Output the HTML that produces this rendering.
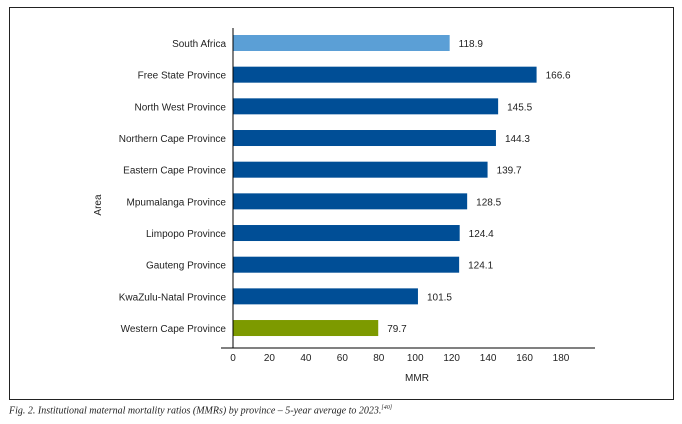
<!DOCTYPE html>
<html><head><meta charset="utf-8"><style>
body{margin:0;background:#fff;width:682px;height:424px;overflow:hidden;font-family:"Liberation Sans",sans-serif}
#frame{position:absolute;left:9px;top:7px;width:665px;height:393px;border:1px solid #222;box-sizing:border-box}
#cap{position:absolute;left:9px;top:405px;font-family:"Liberation Serif",serif;font-style:italic;font-size:10px;color:#222}
svg text{font-family:"Liberation Sans",sans-serif;font-size:10px;fill:#222}
</style></head><body>
<div id="frame"></div>
<svg id="chart" width="682" height="424" style="position:absolute;left:0;top:0"></svg>
<div id="cap">Fig. 2. Institutional maternal mortality ratios (MMRs) by province – 5-year average to 2023.<sup style="font-size:6px">[40]</sup></div>
<script>
const categories=["South Africa","Free State Province","North West Province","Northern Cape Province","Eastern Cape Province","Mpumalanga Province","Limpopo Province","Gauteng Province","KwaZulu-Natal Province","Western Cape Province"];
const values=[118.9,166.6,145.5,144.3,139.7,128.5,124.4,124.1,101.5,79.7];
const colors=["#5b9fd6","#004e96","#004e96","#004e96","#004e96","#004e96","#004e96","#004e96","#004e96","#7d9a00"];
const ticks=[0,20,40,60,80,100,120,140,160,180];
const svg=document.getElementById('chart');const NS='http://www.w3.org/2000/svg';
const x0=233,xs=(561-233)/180;const X=v=>x0+v*xs;
const Y=i=>43+i*31.67;
function mk(t,a,p){const e=document.createElementNS(NS,t);for(const k in a)e.setAttribute(k,a[k]);(p||svg).appendChild(e);return e;}
categories.forEach((c,i)=>{
 const r=mk('rect',{x:x0,y:Y(i)-8,width:X(values[i])-x0,height:16,fill:colors[i]});
 
 
 const l=mk('text',{x:226,y:Y(i)+4,'text-anchor':'end'});l.textContent=c;
 
 
 const v=mk('text',{x:X(values[i])+9,y:Y(i)+4});v.textContent=values[i].toFixed(1);
 
 
});
const ya=mk('line',{x1:x0,y1:28,x2:x0,y2:348,stroke:'#000','stroke-width':1});


const xa=mk('line',{x1:221,y1:348,x2:595,y2:348,stroke:'#000','stroke-width':1});


ticks.forEach(t=>{const e=mk('text',{x:X(t),y:361,'text-anchor':'middle'});e.textContent=t;
 
 });
const xt=mk('text',{x:417,y:381,'text-anchor':'middle'});xt.textContent='MMR';


const yt=mk('text',{x:0,y:0,'text-anchor':'middle',transform:'translate(101,205) rotate(-90)'});yt.textContent='Area';


</script>
</body></html>
